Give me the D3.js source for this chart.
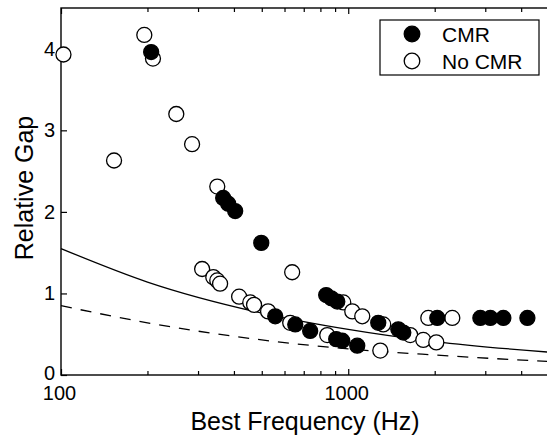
<!DOCTYPE html>
<html lang="en">
<head>
  <meta charset="UTF-8">
  <title>Relative Gap vs Best Frequency</title>
  <script src="https://d3js.org/d3.v7.min.js"></script>
  <style>
    body {
      margin: 0;
      background: #fff;
      font-family: "Liberation Sans", Arial, sans-serif;
    }
    .axis text {
      font-family: "Liberation Sans", Arial, sans-serif;
      font-size: 20px;
      fill: #000;
    }
  </style>
</head>
<body>
<div id="chart"></div>

<script>
  // CMR units (filled): best frequency (Hz) and relative gap
  var cmrFreq = [206, 367, 382, 404, 498, 557, 654, 737, 838, 873, 916, 908, 953, 1075,
                 1272, 1494, 1555, 2042, 2884, 3125, 3468, 4205];
  var cmrGap  = [3.96, 2.17, 2.10, 2.01, 1.62, 0.72, 0.62, 0.54, 0.98, 0.94, 0.90, 0.44, 0.42, 0.36,
                 0.64, 0.56, 0.52, 0.70, 0.70, 0.70, 0.70, 0.70];

  // No CMR units (open)
  var noCmrFreq = [102, 195, 209, 252, 286, 153, 350, 310, 339, 350, 358, 638, 417, 456, 470,
                   526, 628, 845, 961, 1033, 1119, 1324, 1644, 1825, 2026, 1900, 2303, 1293];
  var noCmrGap  = [3.93, 4.17, 3.88, 3.20, 2.83, 2.63, 2.31, 1.30, 1.20, 1.16, 1.12, 1.26, 0.96, 0.89, 0.86,
                   0.78, 0.64, 0.49, 0.89, 0.78, 0.72, 0.62, 0.49, 0.43, 0.40, 0.70, 0.70, 0.30];

  // reference curves
  var curveFreq = [100, 200, 500, 1000, 2000, 5000];
  var solidGap  = [1.55, 1.14, 0.76, 0.56, 0.41, 0.28];
  var dashedGap = [0.85, 0.64, 0.43, 0.32, 0.245, 0.165];

  var xTicks = [100, 1000];
  var xMinor = [200, 300, 400, 500, 600, 700, 800, 900, 2000, 3000, 4000, 5000];
  var yTicks = [0, 1, 2, 3, 4];

  var width = 547, height = 440;
  var pLeft = 61, pRight = 549, pTop = 8, pBottom = 375;
  var r = 7.5;

  var svg = d3.select("#chart").append("svg")
    .attr("width", width)
    .attr("height", height);

  var x = d3.scaleLog().domain([100, 5000]).range([pLeft, pRight]);
  var y = d3.scaleLinear().domain([0, 4.5]).range([pBottom, pTop]);

  var cmr = cmrFreq.map((f, i) => ({f: f, g: cmrGap[i]}));
  var noCmr = noCmrFreq.map((f, i) => ({f: f, g: noCmrGap[i]}));

  // frame
  svg.append("rect")
    .attr("x", pLeft).attr("y", pTop)
    .attr("width", pRight - pLeft).attr("height", pBottom - pTop)
    .attr("fill", "none").attr("stroke", "#000").attr("stroke-width", 1.4);

  // axes (ticks pointing inward)
  var xAxis = svg.append("g").attr("class", "axis")
    .attr("transform", "translate(0," + pBottom + ")")
    .call(d3.axisBottom(x).tickValues(xTicks).tickFormat(d3.format("d"))
      .tickSizeInner(-6).tickSizeOuter(0).tickPadding(11));
  xAxis.select(".domain").remove();
  xAxis.selectAll("text").attr("dx", "-2");

  svg.append("g").attr("class", "axis")
    .attr("transform", "translate(0," + pBottom + ")")
    .call(d3.axisBottom(x).tickValues(xMinor).tickFormat("").tickSizeInner(-4).tickSizeOuter(0))
    .select(".domain").remove();
  svg.append("g").attr("class", "axis")
    .attr("transform", "translate(0," + pTop + ")")
    .call(d3.axisTop(x).tickValues(xTicks).tickFormat("").tickSizeInner(-6).tickSizeOuter(0))
    .select(".domain").remove();
  svg.append("g").attr("class", "axis")
    .attr("transform", "translate(0," + pTop + ")")
    .call(d3.axisTop(x).tickValues(xMinor).tickFormat("").tickSizeInner(-4).tickSizeOuter(0))
    .select(".domain").remove();

  var yAxis = svg.append("g").attr("class", "axis")
    .attr("transform", "translate(" + pLeft + ",0)")
    .call(d3.axisLeft(y).tickValues(yTicks).tickFormat(d3.format("d"))
      .tickSizeInner(-6).tickSizeOuter(0).tickPadding(6));
  yAxis.select(".domain").remove();
  // the "0" sits just above the "100" label, nudge it up a touch
  yAxis.selectAll("text").filter(d => d === 0).attr("dy", "0.2em");

  svg.selectAll(".axis line").attr("stroke", "#000").attr("stroke-width", 1.2);

  // fitted curves
  var line = d3.line()
    .x(d => x(d[0]))
    .y(d => y(d[1]))
    .curve(d3.curveMonotoneX);

  svg.append("path")
    .datum(curveFreq.map((f, i) => [f, solidGap[i]]))
    .attr("d", line)
    .attr("fill", "none").attr("stroke", "#000").attr("stroke-width", 1.3);

  svg.append("path")
    .datum(curveFreq.map((f, i) => [f, dashedGap[i]]))
    .attr("d", line)
    .attr("fill", "none").attr("stroke", "#000").attr("stroke-width", 1.3)
    .attr("stroke-dasharray", "11,9");

  // points
  svg.append("g").selectAll("circle")
    .data(noCmr)
    .enter().append("circle")
    .attr("cx", d => x(d.f))
    .attr("cy", d => y(d.g))
    .attr("r", r)
    .attr("fill", "#fff").attr("stroke", "#000").attr("stroke-width", 1.3);

  svg.append("g").selectAll("circle")
    .data(cmr)
    .enter().append("circle")
    .attr("cx", d => x(d.f))
    .attr("cy", d => y(d.g))
    .attr("r", r)
    .attr("fill", "#000").attr("stroke", "#000").attr("stroke-width", 1.3);

  // legend
  var legend = svg.append("g").attr("transform", "translate(380,20)");
  legend.append("rect")
    .attr("width", 159).attr("height", 55)
    .attr("fill", "#fff").attr("stroke", "#000").attr("stroke-width", 1.2);
  var items = [{label: "CMR", fill: "#000"}, {label: "No CMR", fill: "#fff"}];
  items.forEach(function(it, i) {
    legend.append("circle")
      .attr("cx", 32).attr("cy", 14 + i * 27)
      .attr("r", 7.8)
      .attr("fill", it.fill).attr("stroke", "#000").attr("stroke-width", 1.3);
    legend.append("text")
      .attr("x", 62).attr("y", 14 + i * 27)
      .attr("dy", "0.36em")
      .style("font-size", "21px")
      .text(it.label);
  });

  // axis titles
  svg.append("text")
    .attr("x", 305).attr("y", 430)
    .attr("text-anchor", "middle")
    .style("font-size", "25px")
    .text("Best Frequency (Hz)");

  svg.append("text")
    .attr("transform", "translate(33,188) rotate(-90)")
    .attr("text-anchor", "middle")
    .style("font-size", "25px")
    .text("Relative Gap");
</script>
</body>
</html>
